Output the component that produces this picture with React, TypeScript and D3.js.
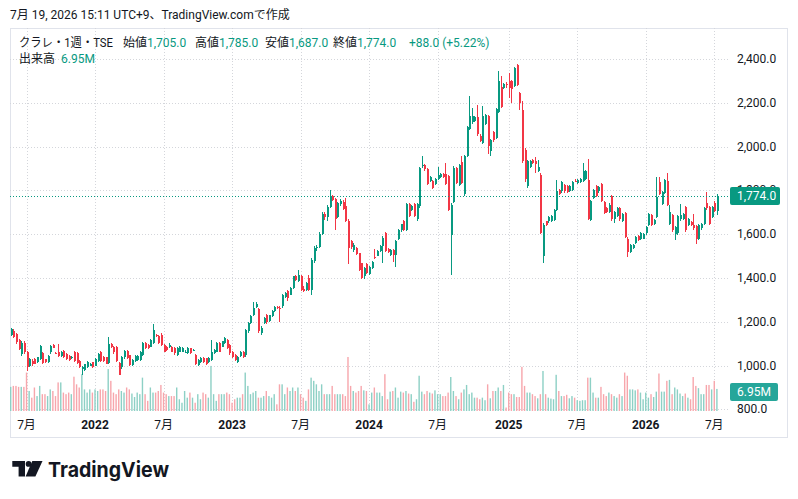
import React from "react";
import * as d3 from "d3";

// ---- data (weekly bars, TSE: クラレ) ----
const firstWeek = new Date(2021, 4, 24); // week of 2021-05-24

// [open, high, low, close]
const ohlc2021: number[][] = [
  [1140,1172,1135,1165],[1160,1165,1125,1130],[1145,1150,1100,1107],[1118,1120,1070,1077],
  [1053,1110,1045,1105],[1105,1110,1055,1060],[1060,1065,975,992],[1000,1035,995,1030],
  [1022,1028,1000,1005],[1030,1035,1005,1008],[1015,1040,1010,1038],[1030,1095,1025,1091],
  [1056,1060,1005,1010],[1030,1032,1010,1015],[1015,1048,1012,1045],[1060,1095,1055,1091],
  [1094,1098,1080,1082],[1058,1062,1052,1056],[1060,1100,1040,1045],[1045,1065,1040,1060],
  [1065,1070,1035,1038],[1053,1058,1025,1030],[1045,1048,1020,1025],[1036,1044,1032,1040],
  [1060,1065,1018,1022],[1056,1060,1005,1010],[1022,1025,990,995],[985,1000,955,995],
  [980,1008,975,1005],[995,1020,990,1015],[1000,1012,996,1008],[1015,1018,990,995],
];
const ohlc2022: number[][] = [
  [1000,1035,998,1030],[1022,1058,1018,1053],[1060,1065,1018,1022],[1038,1042,1018,1022],
  [1038,1040,1005,1008],[1010,1130,1005,1098],[1100,1104,1078,1083],[1083,1088,1055,1060],
  [1083,1090,1018,1022],[1010,1015,955,958],[992,1042,985,1038],[1038,1072,1032,1068],
  [1068,1072,1030,1035],[1048,1050,998,1002],[1002,1030,998,1025],[1022,1050,1018,1045],
  [1025,1050,1020,1045],[1025,1068,1020,1064],[1048,1108,1044,1102],[1102,1106,1075,1079],
  [1094,1098,1075,1079],[1087,1122,1083,1118],[1102,1188,1098,1164],[1140,1145,1130,1136],
  [1133,1138,1098,1102],[1141,1150,1090,1095],[1094,1098,1060,1064],[1087,1090,1066,1071],
  [1084,1102,1080,1094],[1087,1090,1060,1064],[1079,1084,1050,1056],[1048,1084,1044,1079],
  [1064,1090,1060,1084],[1064,1084,1060,1079],[1062,1070,1058,1064],[1056,1084,1052,1079],
  [1079,1082,1052,1056],[1070,1076,1066,1072],[1048,1052,1004,1009],[1002,1030,998,1025],
  [1017,1038,1012,1033],[1033,1037,1012,1017],[1033,1036,1004,1009],[1017,1037,1013,1033],
  [1025,1118,1020,1064],[1056,1076,1052,1071],[1064,1106,1060,1102],[1102,1106,1060,1064],
  [1087,1114,1083,1110],[1102,1130,1098,1125],[1118,1122,1075,1079],[1094,1098,1050,1056],
];
const ohlc2023: number[][] = [
  [1064,1068,1035,1040],[1048,1052,1020,1025],[1017,1045,1012,1040],[1043,1068,1038,1064],
  [1064,1068,1035,1040],[1048,1168,1040,1164],[1160,1200,1150,1195],[1195,1232,1190,1226],
  [1233,1290,1228,1264],[1268,1292,1262,1280],[1256,1262,1150,1158],[1150,1180,1140,1173],
  [1195,1222,1190,1218],[1229,1235,1192,1198],[1203,1232,1198,1229],[1226,1252,1220,1248],
  [1248,1272,1244,1268],[1266,1272,1258,1264],[1264,1272,1200,1262],[1271,1328,1262,1324],
  [1314,1336,1310,1332],[1340,1345,1295,1309],[1324,1358,1320,1354],[1354,1410,1350,1407],
  [1407,1412,1388,1392],[1388,1437,1382,1415],[1410,1415,1340,1345],[1350,1362,1335,1340],
  [1345,1380,1340,1375],[1400,1415,1340,1345],[1345,1490,1320,1482],[1478,1545,1470,1535],
  [1535,1550,1525,1540],[1540,1610,1535,1602],[1602,1700,1598,1692],[1690,1700,1665,1680],
  [1680,1735,1660,1725],[1725,1800,1720,1775],[1775,1780,1750,1755],[1760,1765,1620,1670],
  [1680,1745,1675,1740],[1738,1760,1730,1752],[1745,1758,1710,1715],[1730,1765,1655,1662],
  [1662,1668,1465,1535],[1568,1575,1530,1540],[1528,1560,1520,1550],[1535,1540,1505,1510],
  [1512,1515,1430,1437],[1467,1470,1395,1400],[1408,1450,1395,1446],[1465,1470,1418,1423],
];
const ohlc2024: number[][] = [
  [1420,1455,1415,1450],[1446,1476,1440,1472],[1494,1530,1485,1490],[1502,1526,1498,1522],
  [1522,1550,1518,1545],[1545,1590,1468,1583],[1603,1610,1518,1522],[1530,1535,1512,1518],
  [1507,1532,1502,1527],[1527,1532,1472,1507],[1507,1572,1450,1568],[1578,1622,1572,1618],
  [1618,1648,1612,1644],[1660,1664,1615,1621],[1621,1740,1615,1736],[1736,1744,1678,1683],
  [1710,1732,1705,1728],[1736,1740,1680,1685],[1667,1740,1662,1736],[1728,1908,1720,1904],
  [1912,1955,1900,1915],[1917,1922,1890,1896],[1898,1902,1822,1827],[1843,1866,1838,1861],
  [1843,1848,1806,1812],[1827,1855,1822,1850],[1850,1908,1845,1869],[1861,1878,1856,1873],
  [1873,1878,1857,1862],[1873,1925,1822,1827],[1865,1870,1705,1710],[1598,1740,1415,1731],
  [1747,1910,1740,1904],[1900,1905,1830,1835],[1823,1920,1818,1914],[1927,1957,1830,1835],
  [1781,1962,1775,1957],[1957,2092,1950,2087],[2080,2232,2075,2138],[2110,2178,2105,2138],
  [2115,2138,2110,2133],[2133,2190,2050,2057],[2049,2055,2020,2026],[2018,2186,2012,2140],
  [2102,2148,2098,2143],[2140,2145,1965,2003],[1979,2034,1956,2028],[2067,2072,2022,2028],
  [2040,2175,2035,2170],[2159,2345,2155,2300],[2272,2322,2175,2180],[2269,2292,2262,2287],
  [2285,2295,2265,2282],
];
const ohlc2025: number[][] = [
  [2300,2337,2223,2269],[2300,2305,2200,2261],[2276,2362,2270,2357],[2372,2378,2275,2281],
  [2246,2250,2165,2200],[2165,2210,1925,1933],[1986,1992,1840,1850],[1818,1940,1810,1933],
  [1905,1938,1900,1933],[1940,1945,1920,1925],[1935,1950,1880,1920],[1890,1940,1885,1905],
  [1869,1880,1600,1605],[1498,1650,1467,1643],[1658,1662,1635,1640],[1658,1684,1652,1679],
  [1661,1688,1656,1684],[1666,1716,1660,1711],[1711,1849,1705,1795],[1803,1808,1778,1783],
  [1795,1842,1790,1837],[1826,1830,1790,1795],[1818,1822,1786,1792],[1798,1822,1794,1818],
  [1803,1842,1798,1838],[1843,1850,1836,1840],[1834,1853,1830,1849],[1838,1858,1834,1853],
  [1841,1925,1836,1887],[1853,1895,1848,1890],[1849,1945,1665,1669],[1666,1755,1660,1750],
  [1765,1808,1760,1803],[1818,1822,1768,1772],[1795,1818,1790,1814],[1830,1835,1745,1750],
  [1745,1750,1692,1696],[1720,1725,1695,1700],[1700,1740,1695,1735],[1773,1778,1662,1667],
  [1671,1706,1650,1701],[1682,1722,1678,1717],[1717,1722,1662,1667],[1661,1698,1656,1694],
  [1697,1702,1583,1588],[1580,1585,1494,1520],[1520,1556,1515,1550],[1535,1555,1530,1550],
  [1560,1592,1555,1588],[1591,1596,1568,1573],[1580,1610,1575,1606],[1580,1604,1576,1600],
];
const ohlc2026: number[][] = [
  [1603,1637,1598,1633],[1641,1698,1636,1694],[1686,1692,1636,1641],[1648,1668,1643,1664],
  [1679,1860,1674,1770],[1838,1860,1780,1785],[1739,1796,1734,1792],[1788,1850,1783,1845],
  [1842,1879,1727,1732],[1648,1732,1643,1701],[1686,1692,1612,1618],[1600,1638,1573,1633],
  [1603,1686,1598,1682],[1667,1739,1662,1686],[1671,1698,1666,1694],[1724,1729,1612,1618],
  [1641,1672,1636,1667],[1656,1661,1636,1641],[1641,1694,1620,1626],[1636,1641,1555,1580],
  [1580,1646,1575,1641],[1626,1652,1620,1648],[1648,1722,1643,1717],[1742,1792,1712,1717],
  [1724,1729,1643,1648],[1679,1728,1674,1724],[1740,1750,1700,1705],[1705,1785,1687,1774],
];

// volume in millions of shares
const vol2021 = [7.6,7.9,7.9,7.6,7.6,7.6,12.1,6.3,4.2,7.4,4.7,7.9,5.3,5.3,4.7,6.8,6.3,4.7,9.0,9.0,5.8,5.3,5.8,5.3,10.8,8.4,7.4,11.6,6.8,5.8,6.8,5.8];
const vol2022 = [6.8,6.3,6.8,6.8,6.3,13.2,9.5,5.8,5.3,6.8,6.3,5.8,7.4,6.8,5.5,4.4,5.8,5.3,10.5,5.3,3.2,7.4,5.8,5.8,6.3,8.2,5.8,5.3,4.7,4.7,4.7,7.4,3.7,2.6,6.3,4.2,5.8,4.2,2.6,5.3,3.7,5.8,5.3,4.2,14.2,5.3,3.2,5.3,5.3,5.3,5.8,5.3];
const vol2023 = [2.6,3.7,4.2,4.2,5.3,12.1,7.9,5.3,5.8,6.3,4.2,4.2,4.7,6.3,4.7,4.2,5.3,2.1,8.4,8.4,5.3,7.4,6.3,7.4,6.3,7.4,5.3,4.2,3.2,6.8,10.5,9.5,8.4,6.3,8.4,5.3,5.3,5.3,7.9,5.3,5.3,5.3,5.3,4.7,17.0,7.9,6.3,5.8,6.3,7.9,6.5,6.3];
const vol2024 = [2.1,5.8,7.4,5.8,5.8,4.7,11.6,3.7,6.1,6.3,7.4,4.2,6.1,5.8,6.3,5.5,5.3,2.9,3.7,11.1,6.1,5.3,6.3,5.8,5.5,6.5,5.3,5.3,4.7,4.7,5.8,10.7,6.3,4.7,3.7,5.8,6.8,8.2,5.3,5.8,4.2,4.2,3.7,4.2,3.4,8.4,4.0,6.3,6.3,7.4,6.3,8.2,1.1];
const vol2025 = [5.8,5.3,5.3,4.4,4.4,13.9,7.9,5.8,5.8,5.3,4.7,4.0,5.3,12.6,5.3,4.2,3.9,3.7,11.4,6.3,4.7,4.7,5.1,4.0,4.7,4.2,3.4,3.2,3.4,3.4,10.5,10.5,5.8,4.2,4.2,7.6,5.3,4.7,5.8,5.3,4.7,4.2,5.3,4.7,12.1,11.1,6.8,6.8,6.5,6.8,5.8,3.7];
const vol2026 = [5.8,4.2,5.3,4.4,6.1,11.8,6.1,6.1,9.5,9.8,5.3,7.4,6.8,5.5,4.7,5.5,4.2,3.7,10.7,7.9,7.2,5.3,5.3,8.2,8.2,6.8,9.5,6.95];

const priceTicks = [800, 1000, 1200, 1400, 1600, 1800, 2000, 2200, 2400];
const monthLabel = "7月";

const headerTitle = "クラレ・1週・TSE";
const headerFields = [
  { label: "始値", value: "1,705.0", x: 123 },
  { label: "高値", value: "1,785.0", x: 195 },
  { label: "安値", value: "1,687.0", x: 265 },
  { label: "終値", value: "1,774.0", x: 333 },
];
const changeText = "+88.0 (+5.22%)";
const volumeLabel = "出来高";
const volumeText = "6.95M";
const createdText = "7月 19, 2026 15:11 UTC+9、TradingView.comで作成";

// ---- styling ----
const UP = "#089981";
const DOWN = "#f23645";
const UP_VOL = "#8dd0c5";
const DOWN_VOL = "#f7a6ac";
const TEXT = "#131722";
const GRID = "#d4d6db";
const FONT = "Roboto, 'Noto Sans CJK JP', sans-serif";

export default function App() {
  const ohlc = [...ohlc2021, ...ohlc2022, ...ohlc2023, ...ohlc2024, ...ohlc2025, ...ohlc2026];
  const vols = [...vol2021, ...vol2022, ...vol2023, ...vol2024, ...vol2025, ...vol2026];
  const N = ohlc.length;
  const dates = ohlc.map((_, i) => d3.timeDay.offset(firstWeek, 7 * i));

  const paneLeft = 10, paneRight = 729, paneTop = 28, paneBottom = 412;
  const x = d3.scaleLinear().domain([0, N - 1]).range([10.7, 716.9]);
  const y = d3.scaleLinear().domain([788, 2541]).range([paneBottom, paneTop]);
  const v = d3.scaleLinear().domain([0, 17]).range([411, 357]);
  const fmt = d3.format(",.1f");

  const timeLabels: { i: number; text: string; bold: boolean }[] = [];
  dates.forEach((d, i) => {
    if (i === 0) return;
    const m = d.getMonth();
    if (m !== dates[i - 1].getMonth() && (m === 0 || m === 6)) {
      timeLabels.push({ i, text: m === 0 ? String(d.getFullYear()) : monthLabel, bold: m === 0 });
    }
  });

  const last = ohlc[N - 1];
  const lastY = y(last[3]);
  const lastVolY = v(vols[N - 1]);

  return (
    <div style={{ position: "fixed", left: 0, top: 0, background: "#fff" }}>
      <svg width={798} height={499} style={{ display: "block", fontFamily: FONT }}>
        <defs>
          <clipPath id="pane">
            <rect x={paneLeft} y={paneTop} width={paneRight - paneLeft} height={paneBottom - paneTop} />
          </clipPath>
          <clipPath id="axis">
            <rect x={paneRight} y={paneTop} width={60} height={paneBottom - paneTop + 1} />
          </clipPath>
        </defs>
        <rect width={798} height={499} fill="#fff" />
        <text x={10} y={19} fontSize={12} fill={TEXT}>{createdText}</text>

        {/* frame */}
        <rect x={10.5} y={28.5} width={777} height={409} fill="none" stroke="#e0e3eb" strokeWidth={1} />

        {/* grid */}
        <g stroke={GRID} strokeWidth={1} strokeDasharray="1 2">
          {priceTicks.map((p) => (
            <line key={"h" + p} x1={paneLeft} x2={paneRight} y1={Math.round(y(p)) + 0.5} y2={Math.round(y(p)) + 0.5} />
          ))}
          {timeLabels.map((t) => (
            <line key={"v" + t.i} x1={Math.round(x(t.i)) + 0.5} x2={Math.round(x(t.i)) + 0.5} y1={paneTop} y2={paneBottom} />
          ))}
        </g>

        <g clipPath="url(#pane)">
          {/* volume */}
          {vols.map((vv, i) => {
            const up = ohlc[i][3] >= ohlc[i][0];
            return (
              <rect key={"vol" + i} x={x(i) - 0.7} y={v(vv)} width={1.4} height={v(0) - v(vv)} fill={up ? UP_VOL : DOWN_VOL} />
            );
          })}
          {/* candles */}
          {ohlc.map(([o, h, l, c], i) => {
            const up = c >= o;
            const col = up ? UP : DOWN;
            const cx = Math.round(x(i));
            const top = y(Math.max(o, c));
            const bot = y(Math.min(o, c));
            return (
              <g key={"c" + i} fill={col} shapeRendering="crispEdges">
                <rect x={cx} y={y(h)} width={1} height={Math.max(1, y(l) - y(h))} />
                <rect x={cx - 0.5} y={top} width={2} height={Math.max(1, bot - top)} />
              </g>
            );
          })}
          {/* last price line */}
          <line x1={paneLeft} x2={paneRight} y1={Math.round(lastY) + 0.5} y2={Math.round(lastY) + 0.5}
            stroke={UP} strokeWidth={1} strokeDasharray="1 2" />
        </g>

        {/* price axis */}
        <g clipPath="url(#axis)" fontSize={12} fill={TEXT}>
          {priceTicks.map((p) => (
            <text key={"pl" + p} x={737} y={y(p)} dominantBaseline="central">{fmt(p)}</text>
          ))}
        </g>
        <rect x={730} y={lastY - 9} width={50} height={18} rx={2} fill={UP} />
        <text x={737} y={lastY} dominantBaseline="central" fontSize={12} fill="#fff">{fmt(last[3])}</text>
        <rect x={730} y={lastVolY - 6} width={48} height={18} rx={2} fill="#26a69a" />
        <text x={737} y={lastVolY + 3} dominantBaseline="central" fontSize={12} fill="#fff">{volumeText}</text>

        {/* time axis */}
        <g fontSize={12} fill={TEXT} textAnchor="middle">
          {timeLabels.map((t) => (
            <text key={"tl" + t.i} x={x(t.i)} y={425} dominantBaseline="central" fontWeight={t.bold ? 700 : 400}>{t.text}</text>
          ))}
        </g>

        {/* legend */}
        <g fontSize={12}>
          <text x={19} y={47} fill={TEXT} textLength={94} lengthAdjust="spacingAndGlyphs">{headerTitle}</text>
          {headerFields.map((f) => (
            <g key={f.label}>
              <text x={f.x} y={47} fill={TEXT}>{f.label}</text>
              <text x={f.x + 24} y={47} fill={UP}>{f.value}</text>
            </g>
          ))}
          <text x={409} y={47} fill={UP}>{changeText}</text>
          <text x={19} y={63} fill={TEXT}>{volumeLabel}</text>
          <text x={61} y={63} fill={UP}>{volumeText}</text>
        </g>

        {/* logo */}
        <g fill={TEXT}>
          <path d="M12.3,461 H25 V476.5 H18.6 V466.8 H12.3 Z" />
          <circle cx={28.6} cy={463.9} r={2.9} />
          <path d="M32.3,461 H42.5 L35.4,476.5 H25.6 Z" />
          <text x={48} y={476.5} fontSize={20.5} fontWeight={700} fontFamily="Inter, Roboto, sans-serif" textLength={121} lengthAdjust="spacingAndGlyphs">TradingView</text>
        </g>
      </svg>
    </div>
  );
}
